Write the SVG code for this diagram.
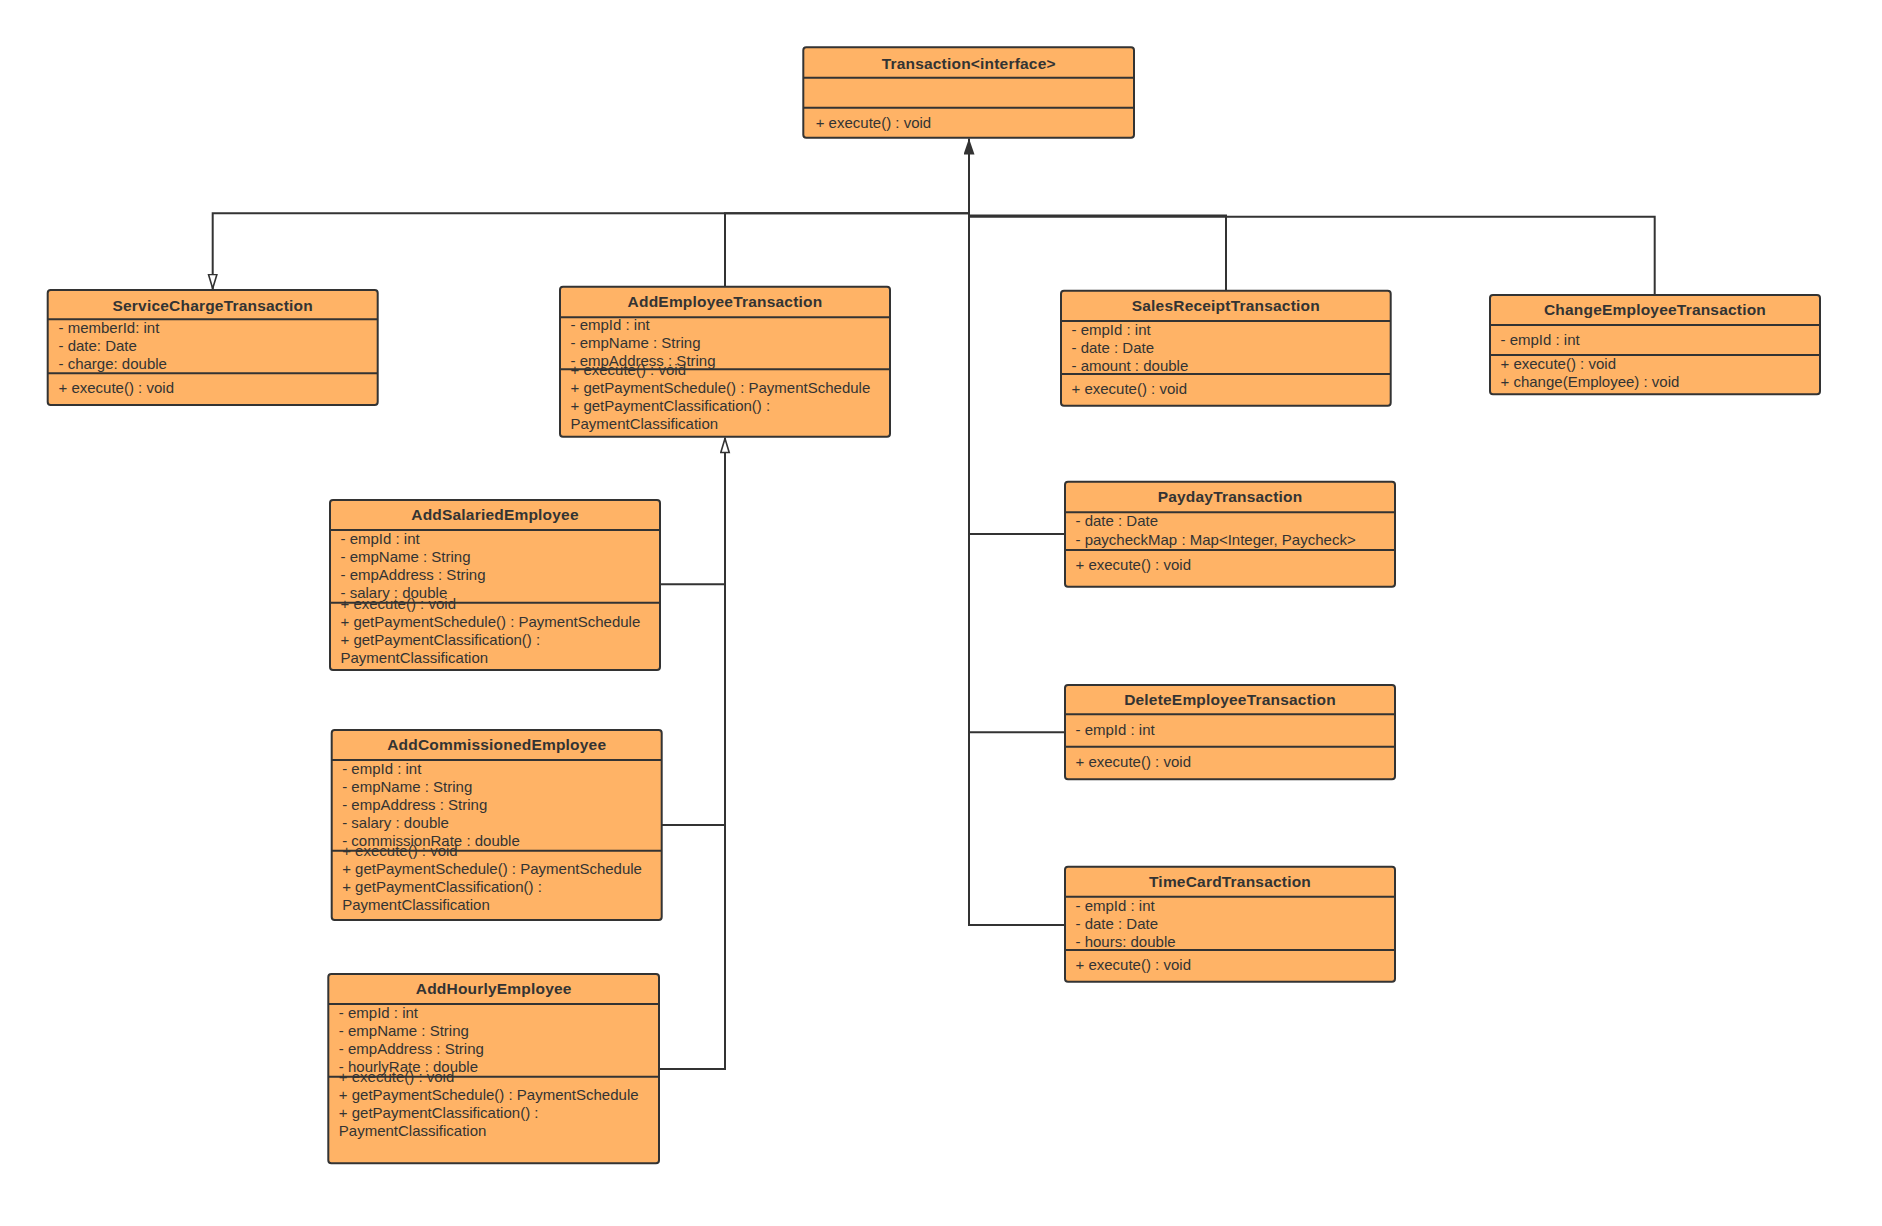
<svg xmlns="http://www.w3.org/2000/svg" width="1882" height="1226" viewBox="0 0 1882 1226">
<style>
.box{fill:#FFB366;stroke:#333333;stroke-width:2}
.div{stroke:#333333;stroke-width:2}
.t{font-family:"Liberation Sans",Arial,sans-serif;font-size:15.5px;font-weight:bold;fill:#333333;text-anchor:middle;letter-spacing:0.2px}
.a{font-family:"Liberation Sans",Arial,sans-serif;font-size:15px;fill:#333333}
.c{fill:none;stroke:#333333;stroke-width:2}
</style>
<defs>
<marker id="fill" markerUnits="userSpaceOnUse" markerWidth="18" markerHeight="13" refX="16" refY="5.5" orient="auto" viewBox="0 0 18 13">
<path d="M0,0 L16,5.5 L0,11 Z" fill="#333333"/>
</marker>
<marker id="hollow" markerUnits="userSpaceOnUse" markerWidth="18" markerHeight="12" refX="15.5" refY="5" orient="auto" viewBox="0 0 18 12">
<path d="M1,0.8 L15,5 L1,9.2 Z" fill="#ffffff" stroke="#333333" stroke-width="1.6"/>
</marker>
</defs>
<rect width="1882" height="1226" fill="#ffffff"/>
<g id="connectors">
<polyline class="c" points="969,154 969,213.3 212.7,213.3 212.7,289" marker-end="url(#hollow)"/>
<polyline class="c" points="725,286.7 725,213.3 969,213.3 969,138.5" marker-end="url(#fill)"/>
<polyline class="c" points="1226,290.7 1226,215.5 969,215.5"/>
<polyline class="c" points="1654.7,295 1654.7,216.7 969,216.7"/>
<polyline class="c" points="1065,534 969,534"/>
<polyline class="c" points="1065,732.3 969,732.3"/>
<polyline class="c" points="1065,925 969,925 969,213"/>
<polyline class="c" points="660,584.3 725,584.3"/>
<polyline class="c" points="661.7,825 725,825"/>
<polyline class="c" points="659,1069 725,1069 725,438" marker-end="url(#hollow)"/>
</g>
<g id="Transaction">
<rect class="box" x="803.3" y="47.3" width="330.7" height="90.4" rx="3"/>
<line class="div" x1="803.3" y1="77.7" x2="1134" y2="77.7"/>
<line class="div" x1="803.3" y1="107.7" x2="1134" y2="107.7"/>
<text class="t" x="968.7" y="68.5">Transaction&lt;interface&gt;</text>
<text class="a" x="815.7" y="128">+ execute() : void</text>
</g>
<g id="ServiceChargeTransaction">
<rect class="box" x="47.7" y="290" width="330" height="115" rx="3"/>
<line class="div" x1="47.7" y1="319.3" x2="377.7" y2="319.3"/>
<line class="div" x1="47.7" y1="373.3" x2="377.7" y2="373.3"/>
<text class="t" x="212.7" y="310.5">ServiceChargeTransaction</text>
<text class="a" x="58.5" y="333">- memberId: int</text>
<text class="a" x="58.5" y="351">- date: Date</text>
<text class="a" x="58.5" y="369">- charge: double</text>
<text class="a" x="58.5" y="393">+ execute() : void</text>
</g>
<g id="AddEmployeeTransaction">
<rect class="box" x="560" y="286.7" width="330" height="150" rx="3"/>
<line class="div" x1="560" y1="317.3" x2="890" y2="317.3"/>
<line class="div" x1="560" y1="369.3" x2="890" y2="369.3"/>
<text class="t" x="725" y="307">AddEmployeeTransaction</text>
<text class="a" x="570.5" y="330.3">- empId : int</text>
<text class="a" x="570.5" y="348.3">- empName : String</text>
<text class="a" x="570.5" y="366.3">- empAddress : String</text>
<text class="a" x="570.5" y="374.6">+ execute() : void</text>
<text class="a" x="570.5" y="392.6">+ getPaymentSchedule() : PaymentSchedule</text>
<text class="a" x="570.5" y="410.6">+ getPaymentClassification() :</text>
<text class="a" x="570.5" y="428.6">PaymentClassification</text>
</g>
<g id="SalesReceiptTransaction">
<rect class="box" x="1061" y="290.7" width="329.7" height="115" rx="3"/>
<line class="div" x1="1061" y1="321" x2="1390.7" y2="321"/>
<line class="div" x1="1061" y1="374" x2="1390.7" y2="374"/>
<text class="t" x="1225.8" y="311">SalesReceiptTransaction</text>
<text class="a" x="1071.5" y="334.6">- empId : int</text>
<text class="a" x="1071.5" y="352.6">- date : Date</text>
<text class="a" x="1071.5" y="370.6">- amount : double</text>
<text class="a" x="1071.5" y="393.6">+ execute() : void</text>
</g>
<g id="ChangeEmployeeTransaction">
<rect class="box" x="1490" y="295" width="330" height="99.3" rx="3"/>
<line class="div" x1="1490" y1="325" x2="1820" y2="325"/>
<line class="div" x1="1490" y1="355" x2="1820" y2="355"/>
<text class="t" x="1655" y="315.3">ChangeEmployeeTransaction</text>
<text class="a" x="1500.5" y="345.3">- empId : int</text>
<text class="a" x="1500.5" y="369.3">+ execute() : void</text>
<text class="a" x="1500.5" y="387">+ change(Employee) : void</text>
</g>
<g id="AddSalariedEmployee">
<rect class="box" x="330" y="500" width="330" height="170" rx="3"/>
<line class="div" x1="330" y1="530" x2="660" y2="530"/>
<line class="div" x1="330" y1="602.7" x2="660" y2="602.7"/>
<text class="t" x="495" y="520.3">AddSalariedEmployee</text>
<text class="a" x="340.5" y="544.3">- empId : int</text>
<text class="a" x="340.5" y="562.3">- empName : String</text>
<text class="a" x="340.5" y="580.3">- empAddress : String</text>
<text class="a" x="340.5" y="598.3">- salary : double</text>
<text class="a" x="340.5" y="608.6">+ execute() : void</text>
<text class="a" x="340.5" y="626.6">+ getPaymentSchedule() : PaymentSchedule</text>
<text class="a" x="340.5" y="644.6">+ getPaymentClassification() :</text>
<text class="a" x="340.5" y="662.6">PaymentClassification</text>
</g>
<g id="AddCommissionedEmployee">
<rect class="box" x="331.7" y="730" width="330" height="190" rx="3"/>
<line class="div" x1="331.7" y1="760" x2="661.7" y2="760"/>
<line class="div" x1="331.7" y1="850.7" x2="661.7" y2="850.7"/>
<text class="t" x="496.7" y="750.3">AddCommissionedEmployee</text>
<text class="a" x="342.2" y="774.3">- empId : int</text>
<text class="a" x="342.2" y="792.3">- empName : String</text>
<text class="a" x="342.2" y="810.3">- empAddress : String</text>
<text class="a" x="342.2" y="828.3">- salary : double</text>
<text class="a" x="342.2" y="846.3">- commissionRate : double</text>
<text class="a" x="342.2" y="856.3">+ execute() : void</text>
<text class="a" x="342.2" y="874.3">+ getPaymentSchedule() : PaymentSchedule</text>
<text class="a" x="342.2" y="892.3">+ getPaymentClassification() :</text>
<text class="a" x="342.2" y="910.3">PaymentClassification</text>
</g>
<g id="AddHourlyEmployee">
<rect class="box" x="328.3" y="974" width="330.7" height="189.3" rx="3"/>
<line class="div" x1="328.3" y1="1004" x2="659" y2="1004"/>
<line class="div" x1="328.3" y1="1076.7" x2="659" y2="1076.7"/>
<text class="t" x="493.7" y="994.3">AddHourlyEmployee</text>
<text class="a" x="338.8" y="1018">- empId : int</text>
<text class="a" x="338.8" y="1036">- empName : String</text>
<text class="a" x="338.8" y="1054">- empAddress : String</text>
<text class="a" x="338.8" y="1072">- hourlyRate : double</text>
<text class="a" x="338.8" y="1082">+ execute() : void</text>
<text class="a" x="338.8" y="1100">+ getPaymentSchedule() : PaymentSchedule</text>
<text class="a" x="338.8" y="1118">+ getPaymentClassification() :</text>
<text class="a" x="338.8" y="1136">PaymentClassification</text>
</g>
<g id="PaydayTransaction">
<rect class="box" x="1065" y="481.7" width="330" height="105" rx="3"/>
<line class="div" x1="1065" y1="512.3" x2="1395" y2="512.3"/>
<line class="div" x1="1065" y1="550" x2="1395" y2="550"/>
<text class="t" x="1230" y="502">PaydayTransaction</text>
<text class="a" x="1075.5" y="526.3">- date : Date</text>
<text class="a" x="1075.5" y="544.6">- paycheckMap : Map&lt;Integer, Paycheck&gt;</text>
<text class="a" x="1075.5" y="570.3">+ execute() : void</text>
</g>
<g id="DeleteEmployeeTransaction">
<rect class="box" x="1065" y="685" width="330" height="94.3" rx="3"/>
<line class="div" x1="1065" y1="714.3" x2="1395" y2="714.3"/>
<line class="div" x1="1065" y1="746.7" x2="1395" y2="746.7"/>
<text class="t" x="1230" y="705.3">DeleteEmployeeTransaction</text>
<text class="a" x="1075.5" y="735.3">- empId : int</text>
<text class="a" x="1075.5" y="767">+ execute() : void</text>
</g>
<g id="TimeCardTransaction">
<rect class="box" x="1065" y="866.7" width="330" height="115" rx="3"/>
<line class="div" x1="1065" y1="896.7" x2="1395" y2="896.7"/>
<line class="div" x1="1065" y1="950" x2="1395" y2="950"/>
<text class="t" x="1230" y="887">TimeCardTransaction</text>
<text class="a" x="1075.5" y="911">- empId : int</text>
<text class="a" x="1075.5" y="929">- date : Date</text>
<text class="a" x="1075.5" y="947">- hours: double</text>
<text class="a" x="1075.5" y="970.3">+ execute() : void</text>
</g>
</svg>
